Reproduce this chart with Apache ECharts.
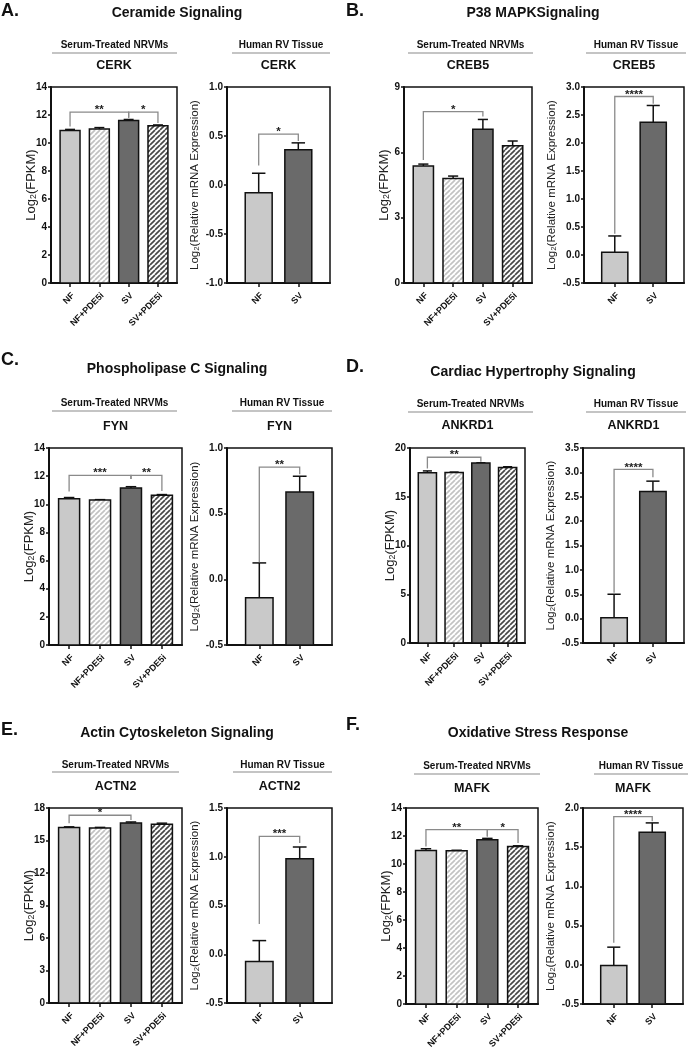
<!DOCTYPE html>
<html>
<head>
<meta charset="utf-8">
<script src="https://cdn.jsdelivr.net/npm/echarts@6/dist/echarts.min.js"></script>
<style>
  html, body { margin: 0; padding: 0; background: #fff; }
  #main { width: 693px; height: 1050px; }
</style>
</head>
<body>
<div id="main"></div>
<script>
const nrvmCats = ['NF', 'NF+PDE5i', 'SV', 'SV+PDE5i'];
const rvCats = ['NF', 'SV'];

const letters = ['A.', 'B.', 'C.', 'D.', 'E.', 'F.'];
const pathways = ['Ceramide Signaling', 'P38 MAPKSignaling', 'Phospholipase C Signaling',
  'Cardiac Hypertrophy Signaling', 'Actin Cytoskeleton Signaling', 'Oxidative Stress Response'];
const genes = ['CERK', 'CREB5', 'FYN', 'ANKRD1', 'ACTN2', 'MAFK'];

// serum-treated NRVMs, log2(FPKM), mean + SEM
const nrvmMean = [
  [10.9, 11.0, 11.6, 11.24],
  [5.37, 4.8, 7.06, 6.3],
  [10.4, 10.3, 11.15, 10.65],
  [17.45, 17.5, 18.45, 18.0],
  [16.2, 16.15, 16.62, 16.5],
  [10.97, 10.95, 11.73, 11.25]
];
const nrvmSem = [
  [0.07, 0.1, 0.08, 0.05],
  [0.09, 0.11, 0.45, 0.22],
  [0.08, 0.03, 0.1, 0.04],
  [0.2, 0.03, 0.03, 0.08],
  [0.06, 0.06, 0.09, 0.1],
  [0.12, 0.03, 0.1, 0.05]
];
// y ticks: min, max, step
const nrvmTicks = [[0, 14, 2], [0, 9, 3], [0, 14, 2], [0, 20, 5], [0, 18, 3], [0, 14, 2]];
// brackets: from, to, level, tip at from, tip at to
const nrvmBrackets = [
  [[0, 2, 12.2, 11.18, 11.8], [2, 3, 12.2, 11.8, 11.42]],
  [[0, 2, 7.87, 5.65, 7.64]],
  [[0, 2, 12.06, 10.9, 11.8], [2, 3, 12.06, 11.8, 10.95]],
  [[0, 2, 19.05, 17.9, 18.6]],
  [[0, 2, 17.33, 16.6, 16.9]],
  [[0, 2, 12.45, 11.25, 11.97], [2, 3, 12.45, 11.97, 11.5]]
];
const nrvmStars = [['**', '*'], ['*'], ['***', '**'], ['**'], ['*'], ['**', '*']];

// human RV tissue, log2(relative mRNA expression)
const rvMean = [[-0.08, 0.36], [0.05, 2.37], [-0.14, 0.665], [0.02, 2.61], [-0.074, 0.979], [-0.01, 1.69]];
const rvSem = [[0.2, 0.07], [0.29, 0.3], [0.265, 0.12], [0.48, 0.21], [0.214, 0.121], [0.235, 0.12]];
const rvTicks = [[-1, 1, 0.5], [-0.5, 3, 0.5], [-0.5, 1, 0.5], [-0.5, 3.5, 0.5], [-0.5, 1.5, 0.5], [-0.5, 2, 0.5]];
const rvBrackets = [
  [0, 1, 0.52, 0.2, 0.45], [0, 1, 2.83, 0.38, 2.7], [0, 1, 0.855, 0.13, 0.8],
  [0, 1, 3.06, 0.53, 2.9], [0, 1, 1.21, 0.31, 1.14], [0, 1, 1.89, 0.28, 1.83]
];
const rvStars = ['*', '****', '**', '****', '***', '****'];

// page geometry for each panel
const layout = [
  { letter: [1, 11], title: [177, 13], head: 45, line: 53, gene: 66, top: 87, bottom: 283, L: [51, 177], R: [227, 330], hl: [52, 177], hr: [232, 330] },
  { letter: [346, 11], title: [533, 13], head: 45, line: 53, gene: 66, top: 87, bottom: 283, L: [404, 532], R: [584, 684], hl: [408, 533], hr: [586, 686] },
  { letter: [1, 360], title: [177, 369], head: 403, line: 411, gene: 427, top: 448, bottom: 645, L: [49, 182], R: [227, 332], hl: [52, 177], hr: [232, 332] },
  { letter: [346, 367], title: [533, 372], head: 404, line: 412, gene: 426, top: 448, bottom: 643, L: [410, 525], R: [583, 684], hl: [408, 533], hr: [586, 686] },
  { letter: [1, 730], title: [177, 733], head: 765, line: 772, gene: 787, top: 808, bottom: 1003, L: [49, 182], R: [227, 332], hl: [52, 179], hr: [233, 332] },
  { letter: [346, 725], title: [538, 733], head: 766, line: 774, gene: 789, top: 808, bottom: 1004, L: [406, 538], R: [583, 683], hl: [414, 540], hr: [594, 688] }
];

const FONT = '"Liberation Sans", Arial, sans-serif';
const INK = '#111';

function stripes(bg, fg) {
  const n = 5;
  const c = document.createElement('canvas');
  c.width = c.height = n;
  const g = c.getContext('2d');
  g.fillStyle = bg;
  g.fillRect(0, 0, n, n);
  g.strokeStyle = fg;
  g.lineWidth = 1.7;
  for (let k = -1; k <= 1; k++) {
    g.beginPath();
    g.moveTo(k * n, n);
    g.lineTo(k * n + n, 0);
    g.stroke();
  }
  return { image: c, repeat: 'repeat' };
}
const fills = ['#c9c9c9', stripes('#fff', '#c2c2c2'), '#6a6a6a', stripes('#fff', '#474747')];

const grids = [], xAxes = [], yAxes = [], series = [], graphics = [];

function addPlot(xr, top, bottom, cats, ticks, xRange, means, sems, fillIdx, brackets, stars, yName, nameSize, gap, dec) {
  const g = grids.length;
  const idx = cats.map((c, k) => k);
  const yMin = ticks[0];
  grids.push({
    left: xr[0], top: top, width: xr[1] - xr[0], height: bottom - top,
    show: true, borderColor: INK, borderWidth: 1.5, outerBoundsMode: 'none'
  });
  xAxes.push({
    gridIndex: g, type: 'value', min: xRange[0], max: xRange[1],
    splitLine: { show: false },
    axisLine: { onZero: false, lineStyle: { color: INK, width: 2 } },
    axisTick: { customValues: idx, length: 4, lineStyle: { color: INK, width: 1.5 } },
    axisLabel: {
      customValues: idx, formatter: v => cats[v], rotate: 45, margin: 8, verticalAlign: 'top',
      fontSize: 9, fontWeight: 'bold', color: INK, fontFamily: FONT
    }
  });
  yAxes.push({
    gridIndex: g, type: 'value', min: ticks[0], max: ticks[1], interval: ticks[2],
    splitLine: { show: false },
    axisLine: { show: true, onZero: false, lineStyle: { color: INK, width: 2 } },
    axisTick: { show: true, length: 3, lineStyle: { color: INK, width: 1.5 } },
    axisLabel: {
      margin: 4, fontSize: 10, fontWeight: 'bold', color: INK, fontFamily: FONT,
      formatter: v => v.toFixed(dec)
    },
    name: yName, nameLocation: 'middle', nameRotate: 90, nameGap: gap, nameMoveOverlap: false,
    nameTextStyle: {
      fontSize: nameSize, color: '#222', fontFamily: FONT,
      rich: { s: { fontSize: nameSize * 0.68, color: '#222', fontFamily: FONT, verticalAlign: 'bottom' } }
    }
  });

  // bars with upward SEM whiskers, drawn from the axis floor like Prism does
  series.push({
    type: 'custom', xAxisIndex: g, yAxisIndex: g, clip: false,
    data: means.map((m, k) => [k, m, sems[k], fillIdx[k]]),
    renderItem: function (params, api) {
      const x = api.value(0), m = api.value(1), e = api.value(2);
      const bw = api.size([1, 0])[0] * 0.68;
      const base = api.coord([x, yMin]);
      const top = api.coord([x, m]);
      const cap = api.coord([x, m + e]);
      return {
        type: 'group',
        children: [
          { type: 'line', shape: { x1: top[0], y1: top[1], x2: cap[0], y2: cap[1] }, style: { stroke: INK, lineWidth: 1.5 } },
          { type: 'line', shape: { x1: cap[0] - bw * 0.25, y1: cap[1], x2: cap[0] + bw * 0.25, y2: cap[1] }, style: { stroke: INK, lineWidth: 1.5 } },
          {
            type: 'rect', shape: { x: base[0] - bw / 2, y: top[1], width: bw, height: base[1] - top[1] },
            style: { fill: fills[api.value(3)], stroke: INK, lineWidth: 1.5 }
          }
        ]
      };
    }
  });

  // significance brackets
  series.push({
    type: 'custom', xAxisIndex: g, yAxisIndex: g, clip: false, z: 3,
    data: brackets,
    renderItem: function (params, api) {
      const a = api.coord([api.value(0), api.value(3)]);
      const b = api.coord([api.value(0), api.value(2)]);
      const c = api.coord([api.value(1), api.value(2)]);
      const d = api.coord([api.value(1), api.value(4)]);
      return {
        type: 'group',
        children: [
          { type: 'polyline', shape: { points: [a, b, c, d] }, style: { stroke: '#8a8a8a', lineWidth: 1.3, fill: null } },
          {
            type: 'text', x: (b[0] + c[0]) / 2, y: b[1] + 4,
            style: {
              text: stars[params.dataIndex], font: 'bold 11.5px ' + FONT, fill: '#222',
              textAlign: 'center', textVerticalAlign: 'bottom', align: 'center', verticalAlign: 'bottom'
            }
          }
        ]
      };
    }
  });
}

function txt(s, x, y, font, align) {
  return {
    type: 'text', x: x, y: y,
    style: {
      text: s, font: font, fill: INK,
      textAlign: align || 'center', textVerticalAlign: 'middle',
      align: align || 'center', verticalAlign: 'middle'
    }
  };
}
function rule(x1, x2, y) {
  return { type: 'line', shape: { x1: x1, y1: y, x2: x2, y2: y }, style: { stroke: '#b0b0b0', lineWidth: 1.5 } };
}

layout.forEach((p, i) => {
  addPlot(p.L, p.top, p.bottom, nrvmCats, nrvmTicks[i], [-0.65, 3.65],
    nrvmMean[i], nrvmSem[i], [0, 1, 2, 3], nrvmBrackets[i], nrvmStars[i],
    'Log{s|2}(FPKM)', 13, 13, 0);
  addPlot(p.R, p.top, p.bottom, rvCats, rvTicks[i], [-0.8, 1.8],
    rvMean[i], rvSem[i], [0, 2], [rvBrackets[i]], [rvStars[i]],
    'Log{s|2}(Relative mRNA Expression)', 11.5, 26, 1);

  graphics.push(txt(letters[i], p.letter[0], p.letter[1], 'bold 18px ' + FONT, 'left'));
  graphics.push(txt(pathways[i], p.title[0], p.title[1], 'bold 14px ' + FONT));
  graphics.push(txt('Serum-Treated NRVMs', (p.hl[0] + p.hl[1]) / 2, p.head, 'bold 10px ' + FONT));
  graphics.push(txt('Human RV Tissue', (p.hr[0] + p.hr[1]) / 2, p.head, 'bold 10px ' + FONT));
  graphics.push(rule(p.hl[0], p.hl[1], p.line));
  graphics.push(rule(p.hr[0], p.hr[1], p.line));
  graphics.push(txt(genes[i], (p.L[0] + p.L[1]) / 2, p.gene, 'bold 12.5px ' + FONT));
  graphics.push(txt(genes[i], (p.R[0] + p.R[1]) / 2, p.gene, 'bold 12.5px ' + FONT));
});

const chart = echarts.init(document.getElementById('main'), null, { renderer: 'canvas' });
chart.setOption({
  backgroundColor: '#fff',
  animation: false,
  grid: grids,
  xAxis: xAxes,
  yAxis: yAxes,
  series: series,
  graphic: graphics
});
</script>
</body>
</html>
